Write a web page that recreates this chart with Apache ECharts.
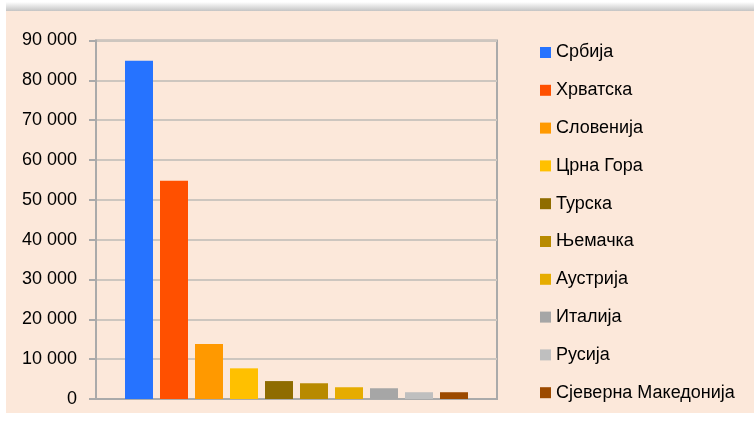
<!DOCTYPE html>
<html>
<head>
<meta charset="utf-8">
<script src="https://cdn.jsdelivr.net/npm/echarts@6/dist/echarts.min.js"></script>
<style>
html,body{margin:0;padding:0;background:#fff;}
#c{width:754px;height:423px;}
</style>
</head>
<body>
<div id="c"></div>
<script>
const countries = ['Србија','Хрватска','Словенија','Црна Гора','Турска','Њемачка','Аустрија','Италија','Русија','Сјеверна Македонија'];
const values = [84900, 54800, 13800, 7700, 4500, 3950, 2950, 2700, 1700, 1700];
const yTicks = [0, 10000, 20000, 30000, 40000, 50000, 60000, 70000, 80000, 90000];
const colors = ['#2673ff','#ff5000','#ff9900','#ffc000','#8f6c00','#b88a00','#e6ac00','#a6a6a6','#bfbfbf','#9c4a00'];

const FONT = "'Liberation Sans Narrow','Arial Narrow','Liberation Sans',sans-serif";
const chart = echarts.init(document.getElementById('c'));
const fmt = v => String(v).replace(/\B(?=(\d{3})+(?!\d))/g, ' ');

chart.setOption({
  backgroundColor: '#ffffff',
  animation: false,
  textStyle: { fontFamily: FONT },
  graphic: [
    { type: 'rect', z: -10, shape: { x: 6, y: 2, width: 748, height: 9 },
      style: { fill: new echarts.graphic.LinearGradient(0, 0, 0, 1, [
        { offset: 0, color: '#ffffff' }, { offset: 1, color: '#c4c4c4' }]) } },
    { type: 'rect', z: -9, shape: { x: 6, y: 11, width: 748, height: 402 },
      style: { fill: '#fce8da' } }
  ],
  grid: {
    left: 96, top: 40.5, width: 401, height: 358.5,
    show: true, borderColor: '#aaaaaa', borderWidth: 2, backgroundColor: 'transparent'
  },
  legend: {
    orient: 'vertical', left: 535, top: 37.5,
    icon: 'rect', itemWidth: 11, itemHeight: 11, itemGap: 17.8,
    textStyle: { fontFamily: FONT, fontSize: 18, color: '#000', lineHeight: 20 },
    data: countries
  },
  xAxis: {
    type: 'category', data: [''],
    axisLine: { show: true, lineStyle: { color: '#aaaaaa', width: 2 } },
    axisTick: { show: false }, axisLabel: { show: false }, splitLine: { show: false }
  },
  yAxis: {
    type: 'value', min: yTicks[0], max: yTicks[yTicks.length - 1], interval: yTicks[1] - yTicks[0],
    axisLine: { show: true, lineStyle: { color: '#aaaaaa', width: 2 } },
    axisTick: { show: true, inside: false, length: 7, lineStyle: { color: '#aaaaaa', width: 2 } },
    axisLabel: { margin: 19, fontFamily: FONT, fontSize: 18, color: '#000', formatter: fmt },
    splitLine: { show: true, lineStyle: { color: '#cdc6bf', width: 2 } }
  },
  series: countries.map((name, i) => ({
    name: name, type: 'bar', data: [values[i]],
    barWidth: 28, barGap: '25%',
    itemStyle: { color: colors[i] }
  }))
});
</script>
</body>
</html>
